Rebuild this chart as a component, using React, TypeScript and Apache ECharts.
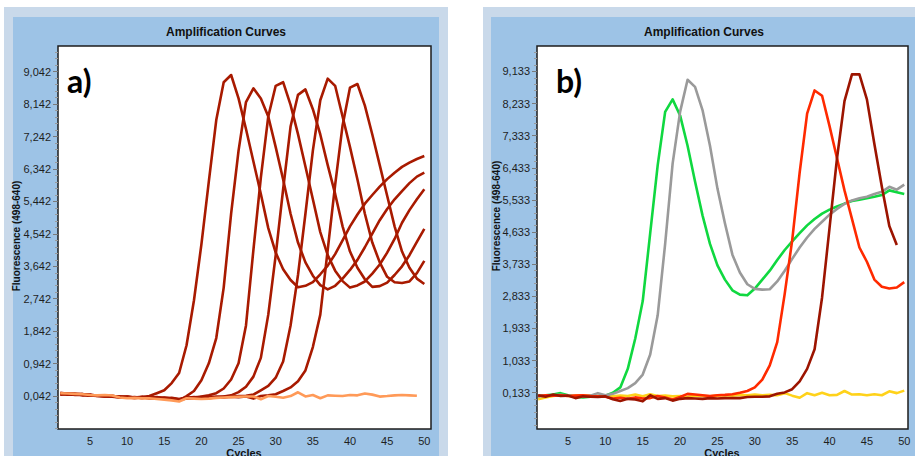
import React, { useEffect, useRef } from "react";
import * as echarts from "echarts";

// ---------- data ----------
const xTickLabels = [5, 10, 15, 20, 25, 30, 35, 40, 45, 50];
const leftYTicks = [42, 942, 1842, 2742, 3642, 4542, 5442, 6342, 7242, 8142, 9042];
const rightYTicks = [133, 1033, 1933, 2833, 3733, 4633, 5533, 6433, 7333, 8233, 9133];

// panel a) – six samples (dark red) and one negative (orange)
const a1 = [120, 100, 110, 80, 70, 50, 40, 30, 10, 20, 0, 10, 40, 120, 200, 400, 680, 1450, 2700, 4250, 6000, 7700, 8750, 8950, 8300, 7450, 6550, 5650, 4700, 4020, 3560, 3260, 3060, 3100, 3200, 3420, 3660, 3980, 4360, 4750, 5080, 5380, 5620, 5850, 6060, 6240, 6400, 6520, 6620, 6700];
const a2 = [90, 110, 80, 90, 60, 40, 50, 20, 0, 10, -10, 0, -20, -10, -30, -40, -80, 40, 180, 480, 950, 1650, 3050, 5100, 6850, 8200, 8580, 8300, 7800, 6950, 6050, 5100, 4300, 3750, 3380, 3120, 3000, 3100, 3300, 3540, 3820, 4170, 4550, 4920, 5230, 5500, 5730, 5950, 6130, 6240];
const a3 = [100, 80, 90, 70, 80, 50, 30, 40, 20, 0, 10, -10, 0, -20, -10, -30, -50, -20, 0, 30, 60, 120, 250, 500, 950, 2000, 4100, 6100, 7800, 8650, 8750, 8120, 7310, 6410, 5500, 4590, 3950, 3520, 3230, 3050, 3110, 3220, 3440, 3690, 4020, 4400, 4850, 5200, 5500, 5780];
const a4 = [110, 90, 100, 60, 70, 40, 60, 30, 20, 30, 0, 20, -10, 10, -20, -10, -40, 0, -20, 10, 0, 20, 30, 60, 150, 300, 580, 1100, 2300, 3950, 5780, 7520, 8400, 8550, 8000, 7300, 6450, 5650, 4750, 4050, 3600, 3280, 3070, 3090, 3190, 3400, 3640, 3950, 4320, 4680];
const a5 = [80, 100, 70, 80, 50, 60, 30, 20, 30, 0, -10, 10, -20, 0, -30, -20, -60, -10, 10, 0, 20, 10, 30, 20, 40, 50, 80, 200, 320, 550, 1000, 2000, 3400, 5100, 6850, 8250, 8850, 8650, 7800, 6950, 6050, 5100, 4300, 3750, 3350, 3200, 3180, 3220, 3450, 3790];
const a6 = [130, 100, 90, 100, 60, 50, 40, 50, 10, 20, 0, -10, 10, -20, 0, -30, -70, -30, -10, 0, -20, 10, 0, 20, 10, 30, -30, 40, 60, 90, 180, 280, 450, 750, 1400, 2300, 4100, 5900, 7550, 8600, 8700, 8100, 7300, 6450, 5600, 4750, 4050, 3600, 3300, 3150];
const aNeg = [120, 110, 100, 90, 70, 60, 70, 55, 0, -20, -10, -25, -20, -40, -60, -80, -110, -20, -30, -40, -30, -10, 0, 10, 20, 30, 30, -50, 40, 20, -5, 40, 145, 30, 70, -20, 60, 50, 40, 70, 60, 110, 80, 25, 40, 60, 70, 60, 50];

// panel b)
const bGreen = [40, 60, 80, 120, 60, 10, 0, 20, 30, 50, 130, 280, 800, 1650, 2700, 4600, 6500, 8000, 8350, 7900, 7050, 6050, 5100, 4300, 3700, 3300, 3000, 2880, 2860, 3050, 3300, 3550, 3850, 4130, 4370, 4600, 4820, 5000, 5150, 5260, 5350, 5430, 5500, 5540, 5580, 5620, 5670, 5800, 5750, 5700];
const bGrey = [30, 50, 60, 70, 50, 40, 30, 50, 120, 60, 100, 180, 260, 400, 640, 1200, 2300, 4300, 6550, 8000, 8900, 8700, 8050, 7050, 5850, 4880, 4000, 3500, 3170, 3040, 3020, 3030, 3250, 3550, 3880, 4200, 4480, 4720, 4920, 5120, 5280, 5420, 5520, 5580, 5620, 5700, 5760, 5900, 5820, 5960];
const bRed = [40, 60, 50, 60, 40, 50, 60, 40, 30, 20, -30, -10, -40, 0, -30, -20, 40, 0, -60, 10, 100, 80, 60, 40, 60, 70, 90, 130, 180, 280, 500, 900, 1550, 2900, 4400, 6300, 7950, 8600, 8450, 7600, 6700, 5800, 5000, 4200, 3800, 3300, 3100, 3050, 3080, 3230];
const bDarkRed = [60, 20, 80, 40, 50, -20, 30, 20, 10, 30, -50, -100, -40, -60, -110, 60, -40, -20, -90, -40, -20, -30, -40, -20, -30, -20, -20, -20, 10, 20, 20, 30, 100, 140, 230, 450, 800, 1350, 2800, 4750, 6700, 8300, 9050, 9050, 8350, 7100, 5900, 4800, 4270];
const bYellow = [-50, 0, 40, 60, 40, 50, 60, 50, 40, 60, 30, 50, 40, 80, 30, 90, 40, 50, 30, 40, 10, 50, 40, 30, 50, 60, 50, 70, 60, 80, 60, 70, 60, 120, 50, -10, 120, 60, 130, 60, 70, 180, 80, 90, 60, 90, 60, 170, 120, 190];

// ---------- helpers ----------
const FONT = '"Liberation Sans", Arial, Helvetica, sans-serif';
const fmt = (v: number) => (v / 1000).toFixed(3).replace(".", ",");
const minors = (ticks: number[], min: number, max: number) => {
  const step = (ticks[1] - ticks[0]) / 5;
  const out: number[] = [];
  for (let v = ticks[0] - step * 20; v <= max; v += step) {
    const r = Math.round(v);
    if (r >= min && !ticks.includes(r)) out.push(r);
  }
  return out;
};
const toXY = (arr: number[]) => arr.map((v, i) => [i + 1, v]);

export default function App() {
  const ref = useRef<HTMLDivElement>(null);

  useEffect(() => {
    if (!ref.current) return;
    const chart = echarts.init(ref.current, undefined, { renderer: "svg" });

    const L = { min: -874, max: 9755 };
    const R = { min: -885, max: 9845 };

    const yMajor = (gridIndex: number, ticks: number[], mm: { min: number; max: number }) => ({
      type: "value",
      gridIndex,
      position: "left",
      min: mm.min,
      max: mm.max,
      axisLine: { show: false },
      splitLine: { show: false },
      axisTick: { show: true, length: 5, customValues: ticks, lineStyle: { color: "#7a7a7a", width: 1 } },
      axisLabel: {
        customValues: ticks,
        formatter: (v: number) => fmt(v),
        color: "#1e1e1e",
        fontSize: 11,
        fontFamily: FONT,
        margin: 7,
      },
    });
    const yMinor = (gridIndex: number, ticks: number[], mm: { min: number; max: number }) => ({
      type: "value",
      gridIndex,
      position: "left",
      offset: 0,
      min: mm.min,
      max: mm.max,
      axisLine: { show: false },
      splitLine: { show: false },
      axisLabel: { show: false },
      axisTick: { show: true, length: 3, customValues: minors(ticks, mm.min, mm.max), lineStyle: { color: "#9a9a9a", width: 1 } },
    });
    const xAxis = (gridIndex: number, min: number, max: number) => ({
      type: "value",
      gridIndex,
      min,
      max,
      axisLine: { show: false },
      splitLine: { show: false },
      axisTick: { show: false },
      axisLabel: {
        customValues: xTickLabels,
        color: "#1e1e1e",
        fontSize: 11,
        fontFamily: FONT,
        margin: 6,
      },
    });

    const line = (name: string, data: number[], color: string, xi: number, yi: number, z = 2) => ({
      name,
      type: "line",
      xAxisIndex: xi,
      yAxisIndex: yi,
      data: toXY(data),
      showSymbol: false,
      symbol: "none",
      z,
      lineStyle: { color, width: 2.6, join: "round" },
    });

    const darkRed = "#a81a00";
    const txt = (text: string, x: number, y: number, size: number, extra: any = {}) => ({
      type: "text",
      x,
      y,
      ...extra,
      style: {
        text,
        fill: "#111",
        fontFamily: FONT,
        fontWeight: "bold",
        fontSize: size,
        textAlign: "center",
        textVerticalAlign: "middle",
      },
    });

    chart.setOption({
      animation: false,
      grid: [
        { left: 58, top: 46, width: 373, height: 383, show: true, backgroundColor: "#ffffff", borderColor: "#1c1c1c", borderWidth: 1.5 },
        { left: 537, top: 46, width: 371, height: 383, show: true, backgroundColor: "#ffffff", borderColor: "#1c1c1c", borderWidth: 1.5 },
      ],
      xAxis: [xAxis(0, 0.7, 50.9), xAxis(1, 0.85, 50.5)],
      yAxis: [yMajor(0, leftYTicks, L), yMinor(0, leftYTicks, L), yMajor(1, rightYTicks, R), yMinor(1, rightYTicks, R)],
      series: [
        line("a1", a1, darkRed, 0, 0),
        line("a2", a2, darkRed, 0, 0),
        line("a3", a3, darkRed, 0, 0),
        line("a4", a4, darkRed, 0, 0),
        line("a5", a5, darkRed, 0, 0),
        line("a6", a6, darkRed, 0, 0),
        line("neg", aNeg, "#ff9a58", 0, 0, 3),
        line("yellow", bYellow, "#ffd21a", 1, 2),
        line("green", bGreen, "#10d840", 1, 2),
        line("grey", bGrey, "#9a9a9a", 1, 2),
        line("red", bRed, "#ff2a00", 1, 2),
        line("darkred", bDarkRed, "#9c1400", 1, 2, 3),
      ],
      graphic: [
        txt("Amplification Curves", 226, 32, 12),
        txt("Amplification Curves", 704, 32, 12),
        txt("Fluorescence (498-640)", 16, 236, 10, { rotation: Math.PI / 2 }),
        txt("Fluorescence (498-640)", 496, 216, 10, { rotation: Math.PI / 2 }),
        txt("Cycles", 244, 452.5, 11),
        txt("Cycles", 722, 452.5, 11),
        {
          type: "text", x: 67, y: 80, z: 10,
          style: { text: "a)", fill: "#000", fontFamily: 'Lato, "Open Sans", sans-serif', fontWeight: "bold", fontSize: 32, textAlign: "left", textVerticalAlign: "middle" },
        },
        {
          type: "text", x: 556, y: 80, z: 10,
          style: { text: "b)", fill: "#000", fontFamily: 'Lato, "Open Sans", sans-serif', fontWeight: "bold", fontSize: 32, textAlign: "left", textVerticalAlign: "middle" },
        },
      ],
    });

    return () => chart.dispose();
  }, []);

  const box = (left: number, top: number, width: number, height: number, bg: string): React.CSSProperties => ({
    position: "absolute",
    left,
    top,
    width,
    height,
    background: bg,
  });

  return (
    <div style={{ position: "fixed", left: 0, top: 0, width: 915, height: 456, overflow: "hidden", background: "#ffffff" }}>
      <div style={box(4, 7, 444, 460, "#c9d9ea")} />
      <div style={box(13, 17, 426, 460, "#9dc3e6")} />
      <div style={box(483, 7, 460, 460, "#c9d9ea")} />
      <div style={box(491, 17, 426, 460, "#9dc3e6")} />
      <div ref={ref} style={{ position: "absolute", left: 0, top: 0, width: 915, height: 456 }} />
    </div>
  );
}
